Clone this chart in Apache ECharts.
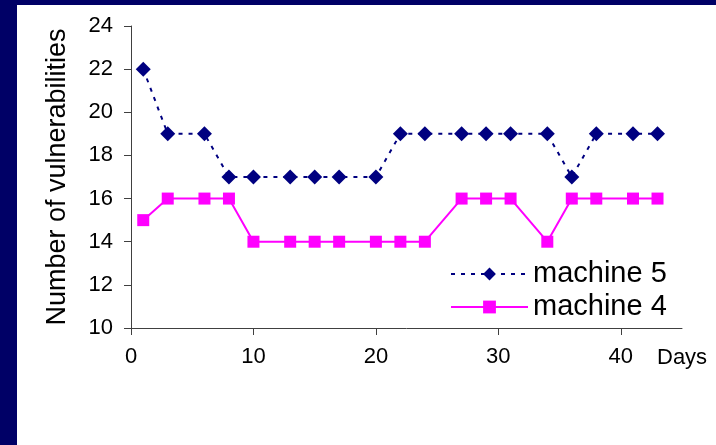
<!DOCTYPE html>
<html>
<head>
<meta charset="utf-8">
<script src="https://cdn.jsdelivr.net/npm/echarts@6/dist/echarts.min.js"></script>
<style>
html,body{margin:0;padding:0;background:#000066;}
#chart{width:716px;height:445px;}
</style>
</head>
<body>
<div id="chart"></div>
<script>
var days = [1,3,6,8,10,13,15,17,20,22,24,27,29,31,34,36,38,41,43];
var machine5 = [22,19,19,17,17,17,17,17,17,19,19,19,19,19,19,17,19,19,19];
var machine4 = [15,16,16,16,14,14,14,14,14,14,14,16,16,16,14,16,16,16,16];
var xTicks = [0,10,20,30,40];
var yTicks = [10,12,14,16,18,20,22,24];

function pairs(xs, ys){ return xs.map(function(x,i){ return [x, ys[i]]; }); }

var FONT = '"Liberation Sans", Arial, sans-serif';
var chart = echarts.init(document.getElementById('chart'), null, {renderer:'canvas'});
chart.setOption({
  backgroundColor: '#000066',
  animation: false,
  graphic: [
    {type:'rect', shape:{x:17, y:5, width:699, height:440}, style:{fill:'#ffffff'}, z:-10, silent:true},
    {type:'text', left:657, top:347, style:{text:'Days', font:'22px ' + FONT, fill:'#000'}}
  ],
  grid: {left:131, top:26, right:34, bottom:117, containLabel:false},
  legend: {
    orient:'vertical', left:445, top:254, itemWidth:77, itemHeight:16, itemGap:3,
    textStyle:{fontFamily:FONT, fontSize:29, color:'#000', lineHeight:30},
    data:['machine 5','machine 4']
  },
  xAxis: {
    type:'value', min:0, max:45, interval:10,
    axisLine:{lineStyle:{color:'#404040', width:1}},
    axisTick:{length:7, lineStyle:{color:'#404040'}, customValues: xTicks},
    axisLabel:{fontFamily:FONT, fontSize:22, color:'#000', margin:18, customValues: xTicks},
    splitLine:{show:false}
  },
  yAxis: {
    type:'value', min:10, max:24, interval:2,
    name:'Number of vulnerabilities', nameLocation:'middle', nameGap:60,
    nameTextStyle:{fontFamily:FONT, fontSize:27, color:'#000'},
    axisLine:{show:true, lineStyle:{color:'#404040', width:1}},
    axisTick:{show:true, length:7, lineStyle:{color:'#404040'}},
    axisLabel:{fontFamily:FONT, fontSize:22, color:'#000', margin:18},
    splitLine:{show:false}
  },
  series: [
    {
      name:'machine 5', type:'line', data:pairs(days, machine5),
      symbol:'diamond', symbolSize:15,
      itemStyle:{color:'#000080'},
      lineStyle:{color:'#000080', width:2, type:[4,6]}
    },
    {
      name:'machine 4', type:'line', data:pairs(days, machine4),
      symbol:'rect', symbolSize:12,
      itemStyle:{color:'#FF00FF'},
      lineStyle:{color:'#FF00FF', width:2}
    }
  ]
});
</script>
</body>
</html>
